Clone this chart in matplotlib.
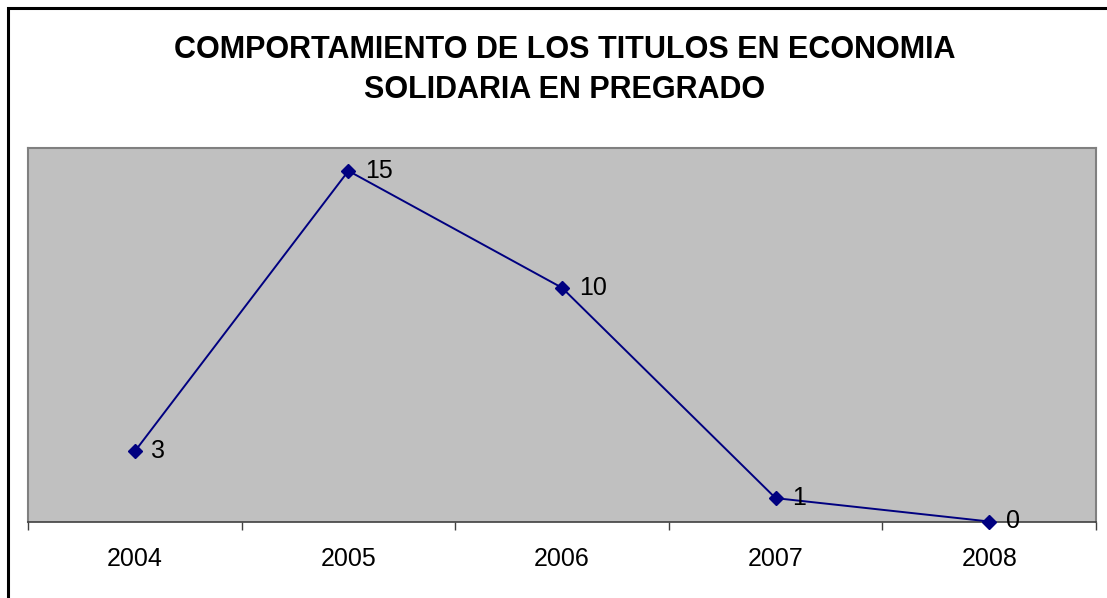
import matplotlib
matplotlib.use("Agg")
import matplotlib.pyplot as plt
from matplotlib.patches import Rectangle

plt.rcParams['font.family'] = ['Liberation Sans', 'DejaVu Sans']

# data
years = ['2004', '2005', '2006', '2007', '2008']
titulos = [3, 15, 10, 1, 0]
title = 'COMPORTAMIENTO DE LOS TITULOS EN ECONOMIA\nSOLIDARIA EN PREGRADO'

W, H = 1107, 598
fig = plt.figure(figsize=(W / 100, H / 100), dpi=100)
fig.patch.set_facecolor('white')

# outer chart border (only top and left edges fall inside the image)
fig.add_artist(Rectangle((8 / W, -0.05), 1.1, 1 - 7.5 / H + 0.05,
                         transform=fig.transFigure, fill=False,
                         edgecolor='black', linewidth=2.2))

ax = fig.add_axes([28 / W, 1 - 521.5 / H, (1096 - 28) / W, (521.5 - 147.5) / H])
ax.set_facecolor('#C0C0C0')

x = list(range(len(years)))
ax.plot(x, titulos, color='#000080', linewidth=1.4, marker='D',
        markersize=7.5, markerfacecolor='#000080', markeredgecolor='#000080',
        clip_on=False, zorder=3)

for xi, v in zip(x, titulos):
    ax.annotate(str(v), (xi, v), xytext=(12, 0), textcoords='offset points',
                ha='left', va='center', fontsize=18, color='black')

ax.set_xlim(-0.5, len(years) - 0.5)
ax.set_ylim(0, 16)
ax.set_yticks([])

ax.set_xticks(x)
ax.set_xticklabels(years, fontsize=18)
ax.tick_params(axis='x', which='major', length=0, pad=18)
ax.set_xticks([i - 0.5 for i in range(len(years) + 1)], minor=True)
ax.tick_params(axis='x', which='minor', length=6, width=1, color='#404040')

for side in ['top', 'left', 'right']:
    ax.spines[side].set_color('#808080')
    ax.spines[side].set_linewidth(1.5)
ax.spines['bottom'].set_color('#404040')
ax.spines['bottom'].set_linewidth(1.2)

fig.text(565 / W, 1 - 70 / H, title, ha='center', va='center',
         fontsize=22, fontweight='bold', linespacing=1.4)

fig.savefig('out.png', dpi=100)
